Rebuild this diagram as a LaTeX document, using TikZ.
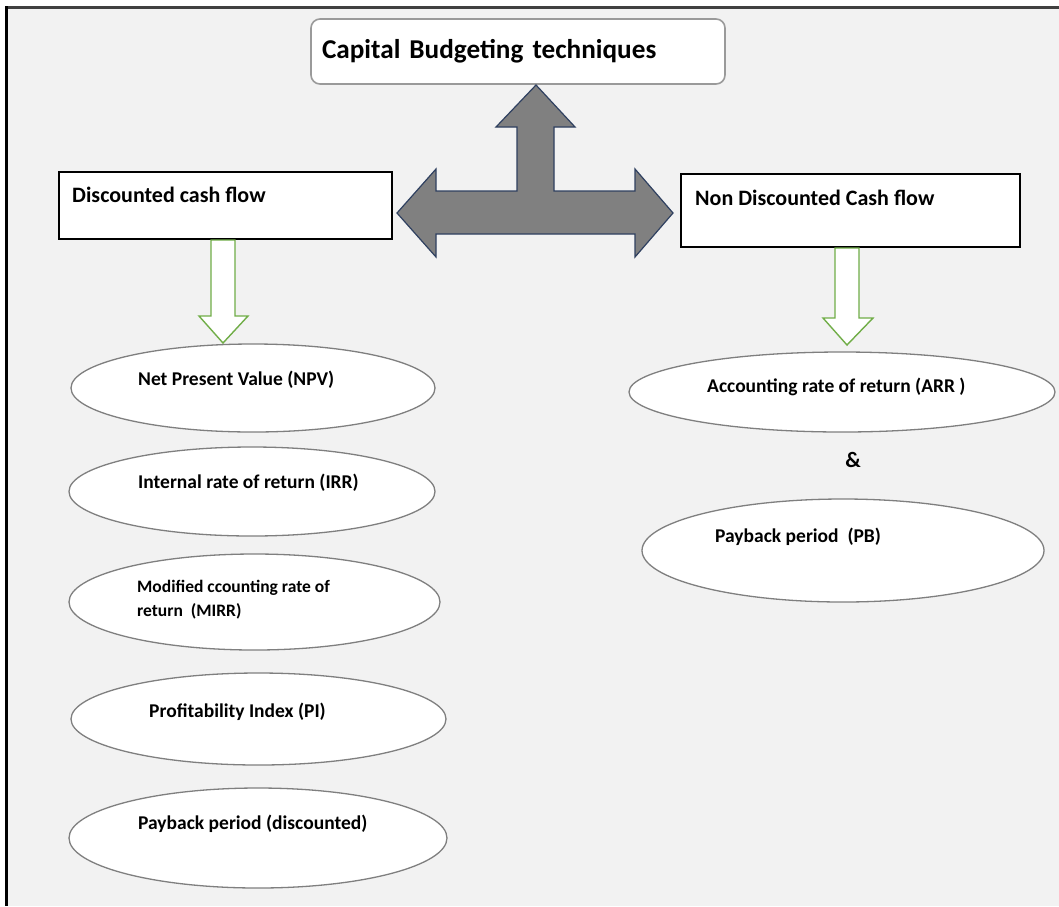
\documentclass[tikz,border=0pt]{standalone}
\usepackage{fontspec}
\setmainfont{Carlito}
\usetikzlibrary{shapes.geometric}
\definecolor{bg}{HTML}{F2F2F2}
\definecolor{arrowfill}{HTML}{808080}
\definecolor{arrowline}{HTML}{2F4060}
\definecolor{greenline}{HTML}{70AD47}
\definecolor{ovalline}{HTML}{7F7F7F}
\definecolor{titleline}{HTML}{9A9A9A}
\tikzset{
  titlebox/.style={draw=titleline, line width=1.6pt, fill=white, rounded corners=9pt,
    inner xsep=11pt, inner ysep=0pt, text width=392pt, align=left, minimum height=65pt,
    font=\bfseries\fontsize{27.2}{32}\selectfont},
  catbox/.style={draw=black, line width=1.8pt, fill=white},
  oval/.style={ellipse, draw=ovalline, line width=1.3pt, fill=white, inner sep=0pt},
  lbl/.style={anchor=west, inner sep=0pt, font=\bfseries\fontsize{19.5}{22}\selectfont},
  catlbl/.style={anchor=west, inner sep=0pt, font=\bfseries\fontsize{22}{24}\selectfont},
  tarrow/.style={fill=arrowfill, draw=arrowline, line width=1.2pt, line join=miter},
  greenarrow/.style={fill=white, draw=greenline, line width=1.4pt, line join=miter}
}
\begin{document}
\begin{tikzpicture}[x=1pt,y=-1pt]
\useasboundingbox (0,0) rectangle (1059,906);
\fill[bg] (7,8) rectangle (1059,906);
\draw[line width=3pt, black!75] (5,7.5) -- (1059,7.5);
\draw[line width=3pt, black] (6.5,6) -- (6.5,906);

% title
\node[titlebox] (title) at (518,51.5) {Capital Budgeting techniques};

% category boxes
\node[catbox, minimum width=333pt, minimum height=67pt] (dcf) at (225.5,205.5) {};
\node[catlbl] (dcftext) at (72,195) {Discounted cash flow};
\node[catbox, minimum width=339pt, minimum height=73pt] (ndcf) at (850.5,210.5) {};
\node[catlbl] (ndcftext) at (695,198) {Non Discounted Cash flow};

% T arrow
\draw[tarrow] (536,85) -- (575,127) -- (554,127) -- (554,191) -- (635,191) -- (635,169)
  -- (673,213) -- (635,257) -- (635,234) -- (436,234) -- (436,257) -- (397,213)
  -- (436,169) -- (436,191) -- (517,191) -- (517,127) -- (496,127) -- cycle;

% ellipses left
\node[oval, minimum width=364pt, minimum height=88pt] (npv) at (253,388) {};
\node[lbl] (npvtext) at (138,380) {Net Present Value (NPV)};
\node[oval, minimum width=366pt, minimum height=89pt] (irr) at (252,491.5) {};
\node[lbl] (irrtext) at (138,483) {Internal rate of return (IRR)};
\node[oval, minimum width=371pt, minimum height=96pt] (mirr) at (254.5,602) {};
\node[anchor=west, inner sep=0pt, align=left, font=\bfseries\fontsize{17.5}{24}\selectfont] (mirrtext) at (137,600) {Modified ccounting rate of\\return\ \ (MIRR)};
\node[oval, minimum width=375pt, minimum height=92pt] (pi) at (258.5,719) {};
\node[lbl] (pitext) at (149,712) {Profitability Index (PI)};
\node[oval, minimum width=378pt, minimum height=100pt] (pbd) at (258,838) {};
\node[lbl] (pbdtext) at (138,824) {Payback period (discounted)};

% ellipses right
\node[oval, minimum width=426pt, minimum height=80pt] (arr) at (842,392) {};
\node[lbl] (arrtext) at (707,387) {Accounting rate of return (ARR )};
\node[font=\bfseries\fontsize{22}{24}\selectfont, inner sep=0pt] (amp) at (853,460) {\&};
\node[oval, minimum width=402pt, minimum height=103pt] (pb) at (843,550.5) {};
\node[lbl] (pbtext) at (715,537) {Payback period\ \ (PB)};

% green block arrows
\draw[greenarrow] (211,240) -- (235,240) -- (235,316) -- (248,316) -- (223,343)
  -- (199,316) -- (211,316) -- cycle;
\draw[greenarrow] (835,248) -- (859,248) -- (859,318) -- (873,318) -- (847,345)
  -- (823,318) -- (835,318) -- cycle;
\end{tikzpicture}
\end{document}
